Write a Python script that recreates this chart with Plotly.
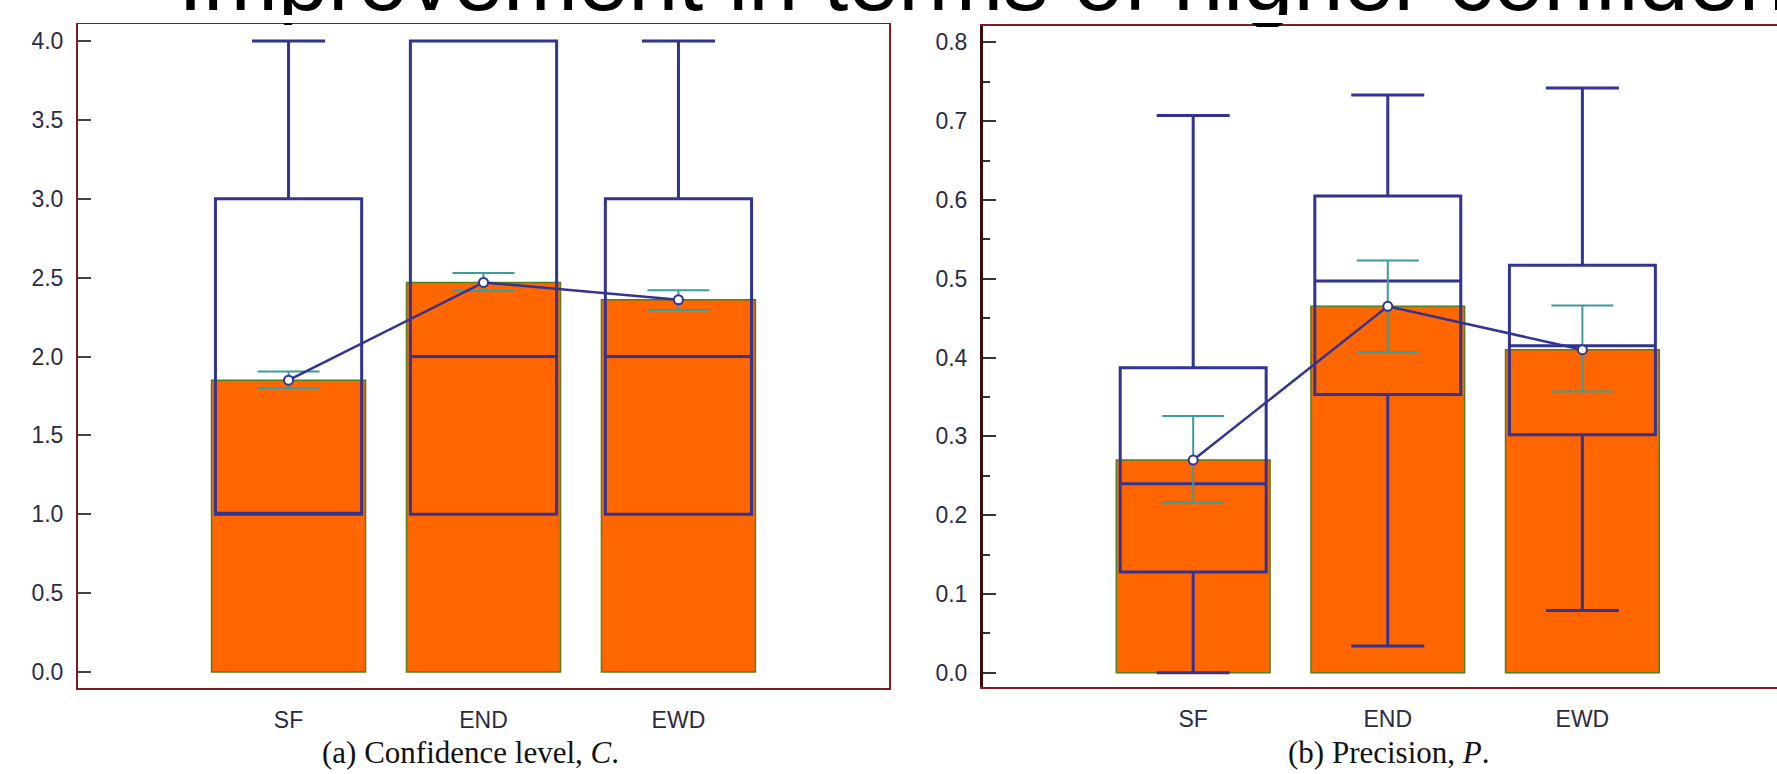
import plotly.graph_objects as go

categories = ["SF", "END", "EWD"]

# Panel (a): Confidence level, C
conf_mean = [1.85, 2.47, 2.36]
conf_ci_hi = [1.905, 2.53, 2.42]
conf_ci_lo = [1.80, 2.415, 2.295]
conf_q1 = [1.0, 1.0, 1.0]
conf_median = [1.0, 2.0, 2.0]
conf_q3 = [3.0, 4.0, 3.0]
conf_min = [1.0, 1.0, 1.0]
conf_max = [4.0, 4.0, 4.0]

# Panel (b): Precision, P
prec_mean = [0.270, 0.465, 0.410]
prec_ci_hi = [0.326, 0.523, 0.466]
prec_ci_lo = [0.216, 0.407, 0.357]
prec_q1 = [0.128, 0.353, 0.302]
prec_median = [0.240, 0.497, 0.415]
prec_q3 = [0.387, 0.605, 0.517]
prec_min = [0.0, 0.034, 0.079]
prec_max = [0.707, 0.733, 0.742]

caption_a = "(a) Confidence level, <i>C</i>."
caption_b = "(b) Precision, <i>P</i>."
heading = "Improvement in terms of higher confidence"

W, H = 1777, 774
ORANGE = "#FF6600"
BAR_EDGE = "#4f7f1f"
NAVY = "#333392"
TEAL = "#3a9c9c"
FRAME = "#7d1d1d"
TICKFONT = dict(family="Liberation Sans, Arial, sans-serif", size=23, color="#2b2b45")

fig = go.Figure()


def add_panel(xa, ya, mean, hi, lo, q1, med, q3, mn, mx):
    fig.add_trace(go.Bar(
        x=categories, y=mean, width=0.79, xaxis=xa, yaxis=ya,
        marker=dict(color=ORANGE, line=dict(color=BAR_EDGE, width=1.5)),
        showlegend=False, hoverinfo="skip"))
    fig.add_trace(go.Box(
        x=categories, q1=q1, median=med, q3=q3, lowerfence=mn, upperfence=mx,
        width=0.75, whiskerwidth=0.5, boxpoints=False, xaxis=xa, yaxis=ya,
        fillcolor="rgba(0,0,0,0)", line=dict(color=NAVY, width=3),
        showlegend=False, hoverinfo="skip"))
    fig.add_trace(go.Scatter(
        x=categories, y=mean, mode="lines+markers", xaxis=xa, yaxis=ya,
        line=dict(color=NAVY, width=2.5),
        marker=dict(symbol="circle", size=9, color="white", line=dict(color=NAVY, width=2)),
        error_y=dict(type="data", symmetric=False,
                     array=[h - m for h, m in zip(hi, mean)],
                     arrayminus=[m - l for m, l in zip(mean, lo)],
                     color=TEAL, thickness=2, width=31),
        showlegend=False, hoverinfo="skip"))


add_panel("x", "y", conf_mean, conf_ci_hi, conf_ci_lo, conf_q1, conf_median, conf_q3, conf_min, conf_max)
add_panel("x2", "y2", prec_mean, prec_ci_hi, prec_ci_lo, prec_q1, prec_median, prec_q3, prec_min, prec_max)

# pixel layout -> paper fractions
axL = (78, 889)
axR = (983, W)
yL = (24, 688)
yR = (26, 687)

fig.update_layout(
    width=W, height=H, margin=dict(l=0, r=0, t=0, b=0),
    paper_bgcolor="white", plot_bgcolor="white",
    showlegend=False,
    xaxis=dict(domain=[axL[0] / W, axL[1] / W], anchor="y", type="category",
               range=[-1.08, 3.08], showline=True, linecolor=FRAME, linewidth=2, mirror=True,
               ticks="", showgrid=False, zeroline=False, tickfont=TICKFONT, ticklabelstandoff=10),
    yaxis=dict(domain=[1 - yL[1] / H, 1 - yL[0] / H], anchor="x",
               range=[-0.101, 4.108], tickvals=[0, 0.5, 1, 1.5, 2, 2.5, 3, 3.5, 4],
               tickformat=".1f", ticks="inside", ticklen=13, tickwidth=2, tickcolor="#444444",
               showline=True, linecolor=FRAME, linewidth=2, mirror=True,
               showgrid=False, zeroline=False, tickfont=TICKFONT, ticklabelstandoff=8),
    xaxis2=dict(domain=[axR[0] / W, axR[1] / W], anchor="y2", type="category",
                range=[-1.08, 3.0], showline=True, linecolor=FRAME, linewidth=2, mirror=True,
                ticks="", showgrid=False, zeroline=False, tickfont=TICKFONT, ticklabelstandoff=10),
    yaxis2=dict(domain=[1 - yR[1] / H, 1 - yR[0] / H], anchor="x2",
                range=[-0.018, 0.8207], tickvals=[0, 0.1, 0.2, 0.3, 0.4, 0.5, 0.6, 0.7, 0.8],
                tickformat=".1f", ticks="inside", ticklen=13, tickwidth=2, tickcolor="#333333",
                minor=dict(dtick=0.05, ticks="inside", ticklen=7, tickwidth=2, tickcolor="#333333"),
                showline=True, linecolor="#3a0d0d", linewidth=3, mirror=False,
                showgrid=False, zeroline=False, tickfont=TICKFONT, ticklabelstandoff=8),
)

fig.add_annotation(text=caption_a, xref="paper", yref="paper", x=470 / W, y=1 - 752 / H,
                   xanchor="center", yanchor="middle", showarrow=False,
                   font=dict(family="Liberation Serif, Times New Roman, serif", size=31, color="#111111"))
fig.add_annotation(text=caption_b, xref="paper", yref="paper", x=1388 / W, y=1 - 752 / H,
                   xanchor="center", yanchor="middle", showarrow=False,
                   font=dict(family="Liberation Serif, Times New Roman, serif", size=31, color="#111111"))
# page heading partly hidden behind the top edge of the figure image
fig.add_annotation(text=heading, xref="paper", yref="paper", x=176 / W, y=1 - 31 / H,
                   xanchor="left", yanchor="bottom", showarrow=False,
                   font=dict(family="Liberation Sans, Arial, sans-serif", size=90, color="black"))


# white covers: the figure image hides the heading's descenders
def cover(x0, x1, y0, y1):
    fig.add_annotation(text=" ", xref="paper", yref="paper", x=x0 / W, y=1 - y0 / H,
                       xanchor="left", yanchor="top", showarrow=False,
                       width=x1 - x0, height=y1 - y0, borderpad=0, borderwidth=0,
                       bgcolor="white", font=dict(size=4))


cover(0, W, 15, 23)
cover(225, 345, 25, 38)
cover(1215, 1315, 27, 38)

fig.write_html("out.html", config={"displayModeBar": False},
               post_script="document.body.style.margin='0';document.body.style.overflow='hidden';")
